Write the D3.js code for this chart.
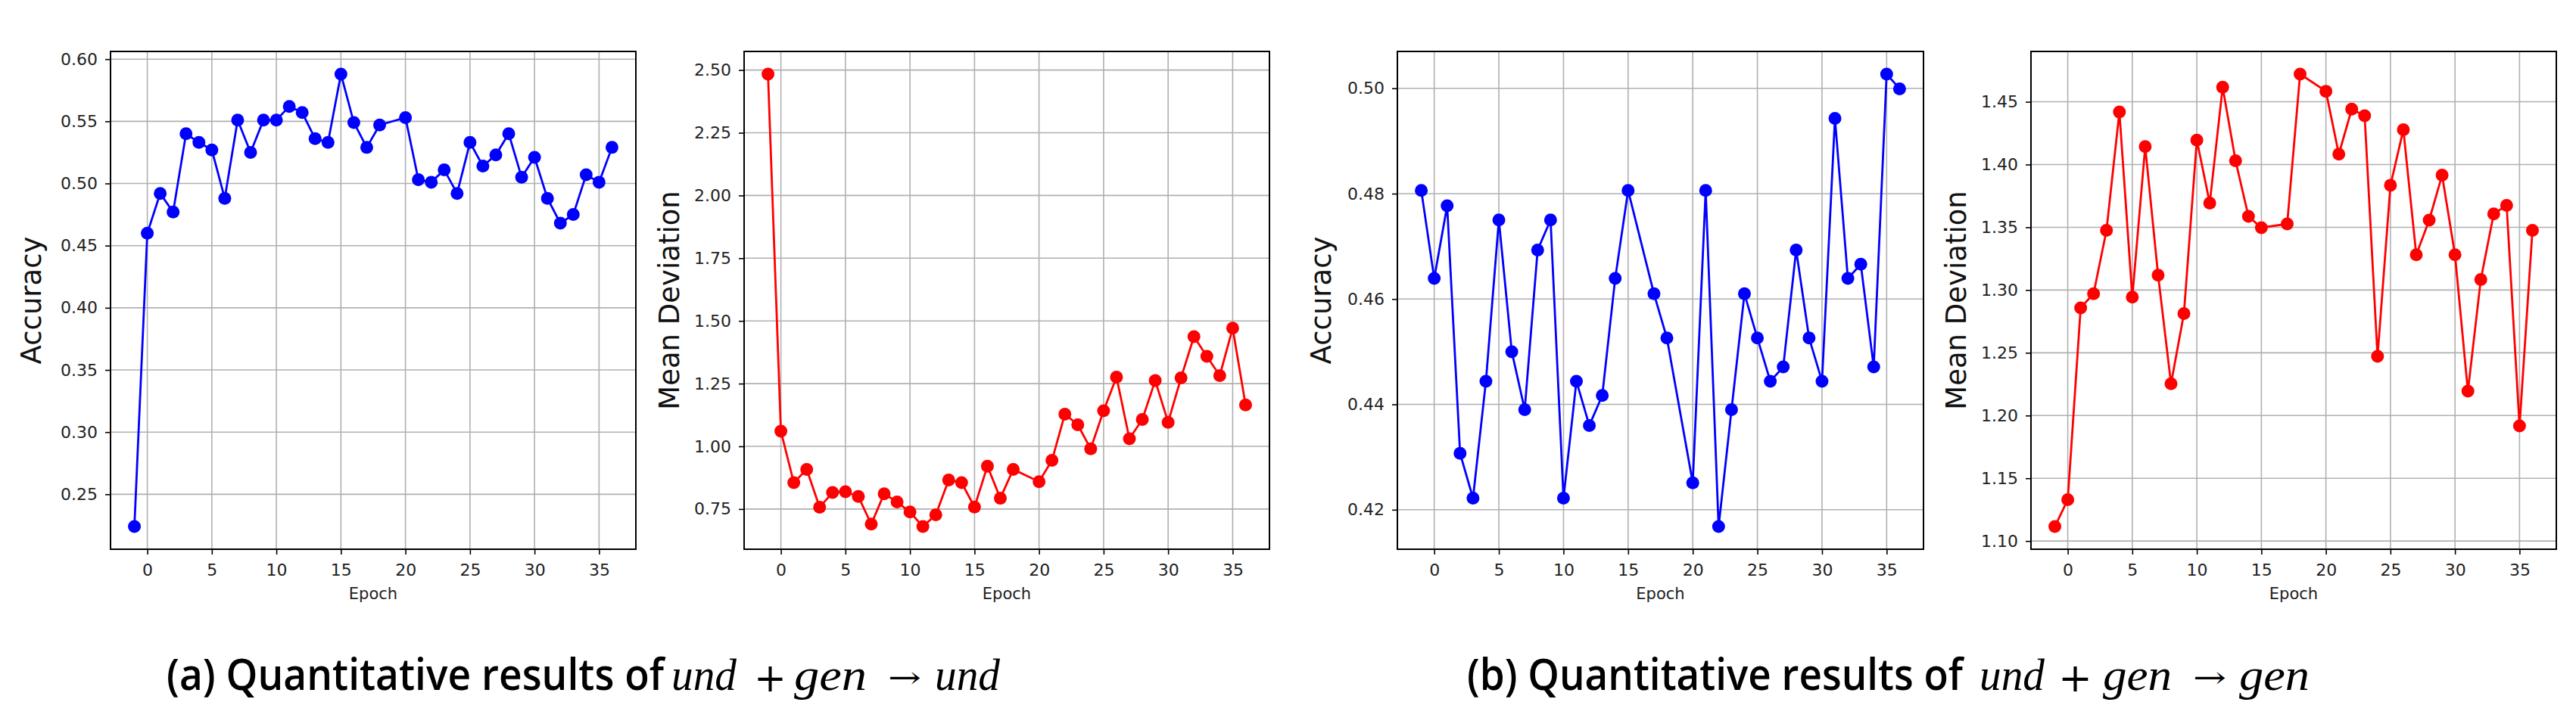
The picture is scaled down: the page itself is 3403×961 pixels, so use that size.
<!DOCTYPE html>
<html><head><meta charset="utf-8">
<script src="https://cdn.jsdelivr.net/npm/d3@7"></script>
<style>
body{margin:0;background:#fff}
svg{display:block}
</style>
</head><body>
<svg id="c" width="3403" height="961"></svg>
<script>
// ---- data ----
const epochsA = [-1,0,1,2,3,4,5,6,7,8,9,10,11,12,13,14,15,16,17,18,20,21,22,23,24,25,26,27,28,29,30,31,32,33,34,35,36];
const accuracyA = [0.224,0.460,0.492,0.477,0.540,0.533,0.527,0.488,0.551,0.525,0.551,0.551,0.562,0.557,0.536,0.533,0.588,0.549,0.529,0.547,0.553,0.503,0.501,0.511,0.492,0.533,0.514,0.523,0.540,0.505,0.521,0.488,0.468,0.475,0.507,0.501,0.529];
const deviationA = [2.484,1.060,0.855,0.908,0.757,0.816,0.819,0.800,0.690,0.811,0.778,0.738,0.680,0.727,0.866,0.855,0.758,0.921,0.793,0.908,0.859,0.944,1.128,1.086,0.990,1.142,1.276,1.030,1.107,1.262,1.096,1.273,1.437,1.359,1.282,1.471,1.165];

const epochsB = [-1,0,1,2,3,4,5,6,7,8,9,10,11,12,13,14,15,17,18,20,21,22,23,24,25,26,27,28,29,30,31,32,33,34,35,36];
const accuracyB = [0.4806,0.4639,0.4777,0.4307,0.4222,0.4444,0.4750,0.4500,0.4390,0.4693,0.4750,0.4222,0.4444,0.4360,0.4417,0.4639,0.4806,0.4610,0.4526,0.4251,0.4806,0.4168,0.4390,0.4610,0.4526,0.4444,0.4471,0.4693,0.4526,0.4444,0.4943,0.4639,0.4666,0.4471,0.5027,0.4999];
const deviationB = [1.1115,1.1330,1.2858,1.2971,1.3476,1.4419,1.2943,1.4143,1.3118,1.2254,1.2812,1.4195,1.3692,1.4616,1.4030,1.3587,1.3497,1.3527,1.4721,1.4584,1.4083,1.4441,1.4389,1.2472,1.3835,1.4278,1.3281,1.3557,1.3915,1.3281,1.2194,1.3084,1.3607,1.3674,1.1917,1.3476];

const xTicks = [0,5,10,15,20,25,30,35];
const yTicksAccA = [0.25,0.30,0.35,0.40,0.45,0.50,0.55,0.60];
const yTicksDevA = [0.75,1.00,1.25,1.50,1.75,2.00,2.25,2.50];
const yTicksAccB = [0.42,0.44,0.46,0.48,0.50];
const yTicksDevB = [1.10,1.15,1.20,1.25,1.30,1.35,1.40,1.45];

const xLabel = "Epoch";
const yLabels = ["Accuracy","Mean Deviation"];

// ---- layout ----
const svg = d3.select("#c");
const TOP = 68, BOTTOM = 726;
const panels = [
  {x0:146,  x1:840,  xs:epochsA, ys:accuracyA,  ticks:yTicksAccA, color:"#0000ff", label:yLabels[0], labX:54},
  {x0:983,  x1:1677, xs:epochsA, ys:deviationA, ticks:yTicksDevA, color:"#ff0000", label:yLabels[1], labX:897},
  {x0:1846, x1:2541, xs:epochsB, ys:accuracyB,  ticks:yTicksAccB, color:"#0000ff", label:yLabels[0], labX:1758},
  {x0:2683, x1:3377, xs:epochsB, ys:deviationB, ticks:yTicksDevB, color:"#ff0000", label:yLabels[1], labX:2597}
];

function pad(ext, f){ const r = ext[1]-ext[0]; return [ext[0]-f*r, ext[1]+f*r]; }

panels.forEach(p => {
  const xd = pad(d3.extent(p.xs), 0.05);
  const yd = pad(d3.extent(p.ys), 0.05);
  const x = d3.scaleLinear().domain(xd).range([p.x0, p.x1]);
  const y = d3.scaleLinear().domain(yd).range([BOTTOM, TOP]);
  const g = svg.append("g");

  // grid
  g.append("g").selectAll("line").data(xTicks).join("line")
    .attr("x1", d=>x(d)).attr("x2", d=>x(d)).attr("y1", TOP).attr("y2", BOTTOM)
    .attr("stroke","#b0b0b0").attr("stroke-width",1.6);
  g.append("g").selectAll("line").data(p.ticks).join("line")
    .attr("x1", p.x0).attr("x2", p.x1).attr("y1", d=>y(d)).attr("y2", d=>y(d))
    .attr("stroke","#b0b0b0").attr("stroke-width",1.6);

  // axes
  const ax = g.append("g").attr("transform",`translate(0,${BOTTOM})`)
    .call(d3.axisBottom(x).tickValues(xTicks).tickFormat(d3.format("d")).tickSize(7).tickPadding(12));
  const ay = g.append("g").attr("transform",`translate(${p.x0},0)`)
    .call(d3.axisLeft(y).tickValues(p.ticks).tickFormat(d3.format(".2f")).tickSize(7).tickPadding(10));
  [ax, ay].forEach(a => {
    a.select(".domain").remove();
    a.selectAll(".tick line").attr("stroke","#000").attr("stroke-width",1.6);
    a.selectAll(".tick text").style("font-size","22px").style("font-family","'DejaVu Sans'").attr("fill","#222");
  });

  // frame
  g.append("rect").attr("x",p.x0).attr("y",TOP).attr("width",p.x1-p.x0).attr("height",BOTTOM-TOP)
    .attr("fill","none").attr("stroke","#000").attr("stroke-width",2);

  // line + markers
  const pts = p.xs.map((e,i)=>[e,p.ys[i]]);
  g.append("path").datum(pts)
    .attr("d", d3.line().x(d=>x(d[0])).y(d=>y(d[1])))
    .attr("fill","none").attr("stroke",p.color).attr("stroke-width",2.8);
  g.append("g").selectAll("circle").data(pts).join("circle")
    .attr("cx", d=>x(d[0])).attr("cy", d=>y(d[1])).attr("r",8.5).attr("fill",p.color);

  // labels
  g.append("text").attr("x",(p.x0+p.x1)/2).attr("y",792).attr("text-anchor","middle")
    .style("font-family","'DejaVu Sans'").style("font-size","21px").attr("fill","#222").text(xLabel);
  g.append("text").attr("transform",`translate(${p.labX},${(TOP+BOTTOM)/2}) rotate(-90)`)
    .attr("text-anchor","middle").style("font-family","'DejaVu Sans'").style("font-size","37px")
    .attr("fill","#111").text(p.label);
});

// ---- captions ----
const captions = [
  {pieces:[
    {t:"(a) Quantitative results of", x:220, w:657, kind:"sans"},
    {t:"und", x:887, w:86, kind:"math"}, {t:"+", x:996, w:43, kind:"op"}, {t:"gen", x:1049, w:96, kind:"math"},
    {t:"→", x:1173, w:44, kind:"arrow"}, {t:"und", x:1235, w:86, kind:"math"}]},
  {pieces:[
    {t:"(b) Quantitative results of", x:1938, w:655, kind:"sans"},
    {t:"und", x:2615, w:86, kind:"math"}, {t:"+", x:2719, w:45, kind:"op"}, {t:"gen", x:2778, w:91, kind:"math"},
    {t:"→", x:2897, w:44, kind:"arrow"}, {t:"gen", x:2958, w:93, kind:"math"}]}
];
captions.forEach(c => c.pieces.forEach(pc => {
  const t = svg.append("text").attr("x",pc.x).attr("y",912).text(pc.t)
    .attr("textLength",pc.w).attr("lengthAdjust","spacingAndGlyphs").attr("fill","#000");
  if (pc.kind==="sans") t.style("font-family","'Open Sans', sans-serif").style("font-weight","600").style("font-size","57px");
  else if (pc.kind==="op") t.style("font-family","'DejaVu Serif', serif").style("font-size","52px").attr("y",914);
  else if (pc.kind==="arrow") t.style("font-family","'DejaVu Serif', serif").style("font-size","40px").attr("y",909);
  else t.style("font-family","'Liberation Serif', serif").style("font-style","italic").style("font-size","60px");
}));
</script>
</body></html>
